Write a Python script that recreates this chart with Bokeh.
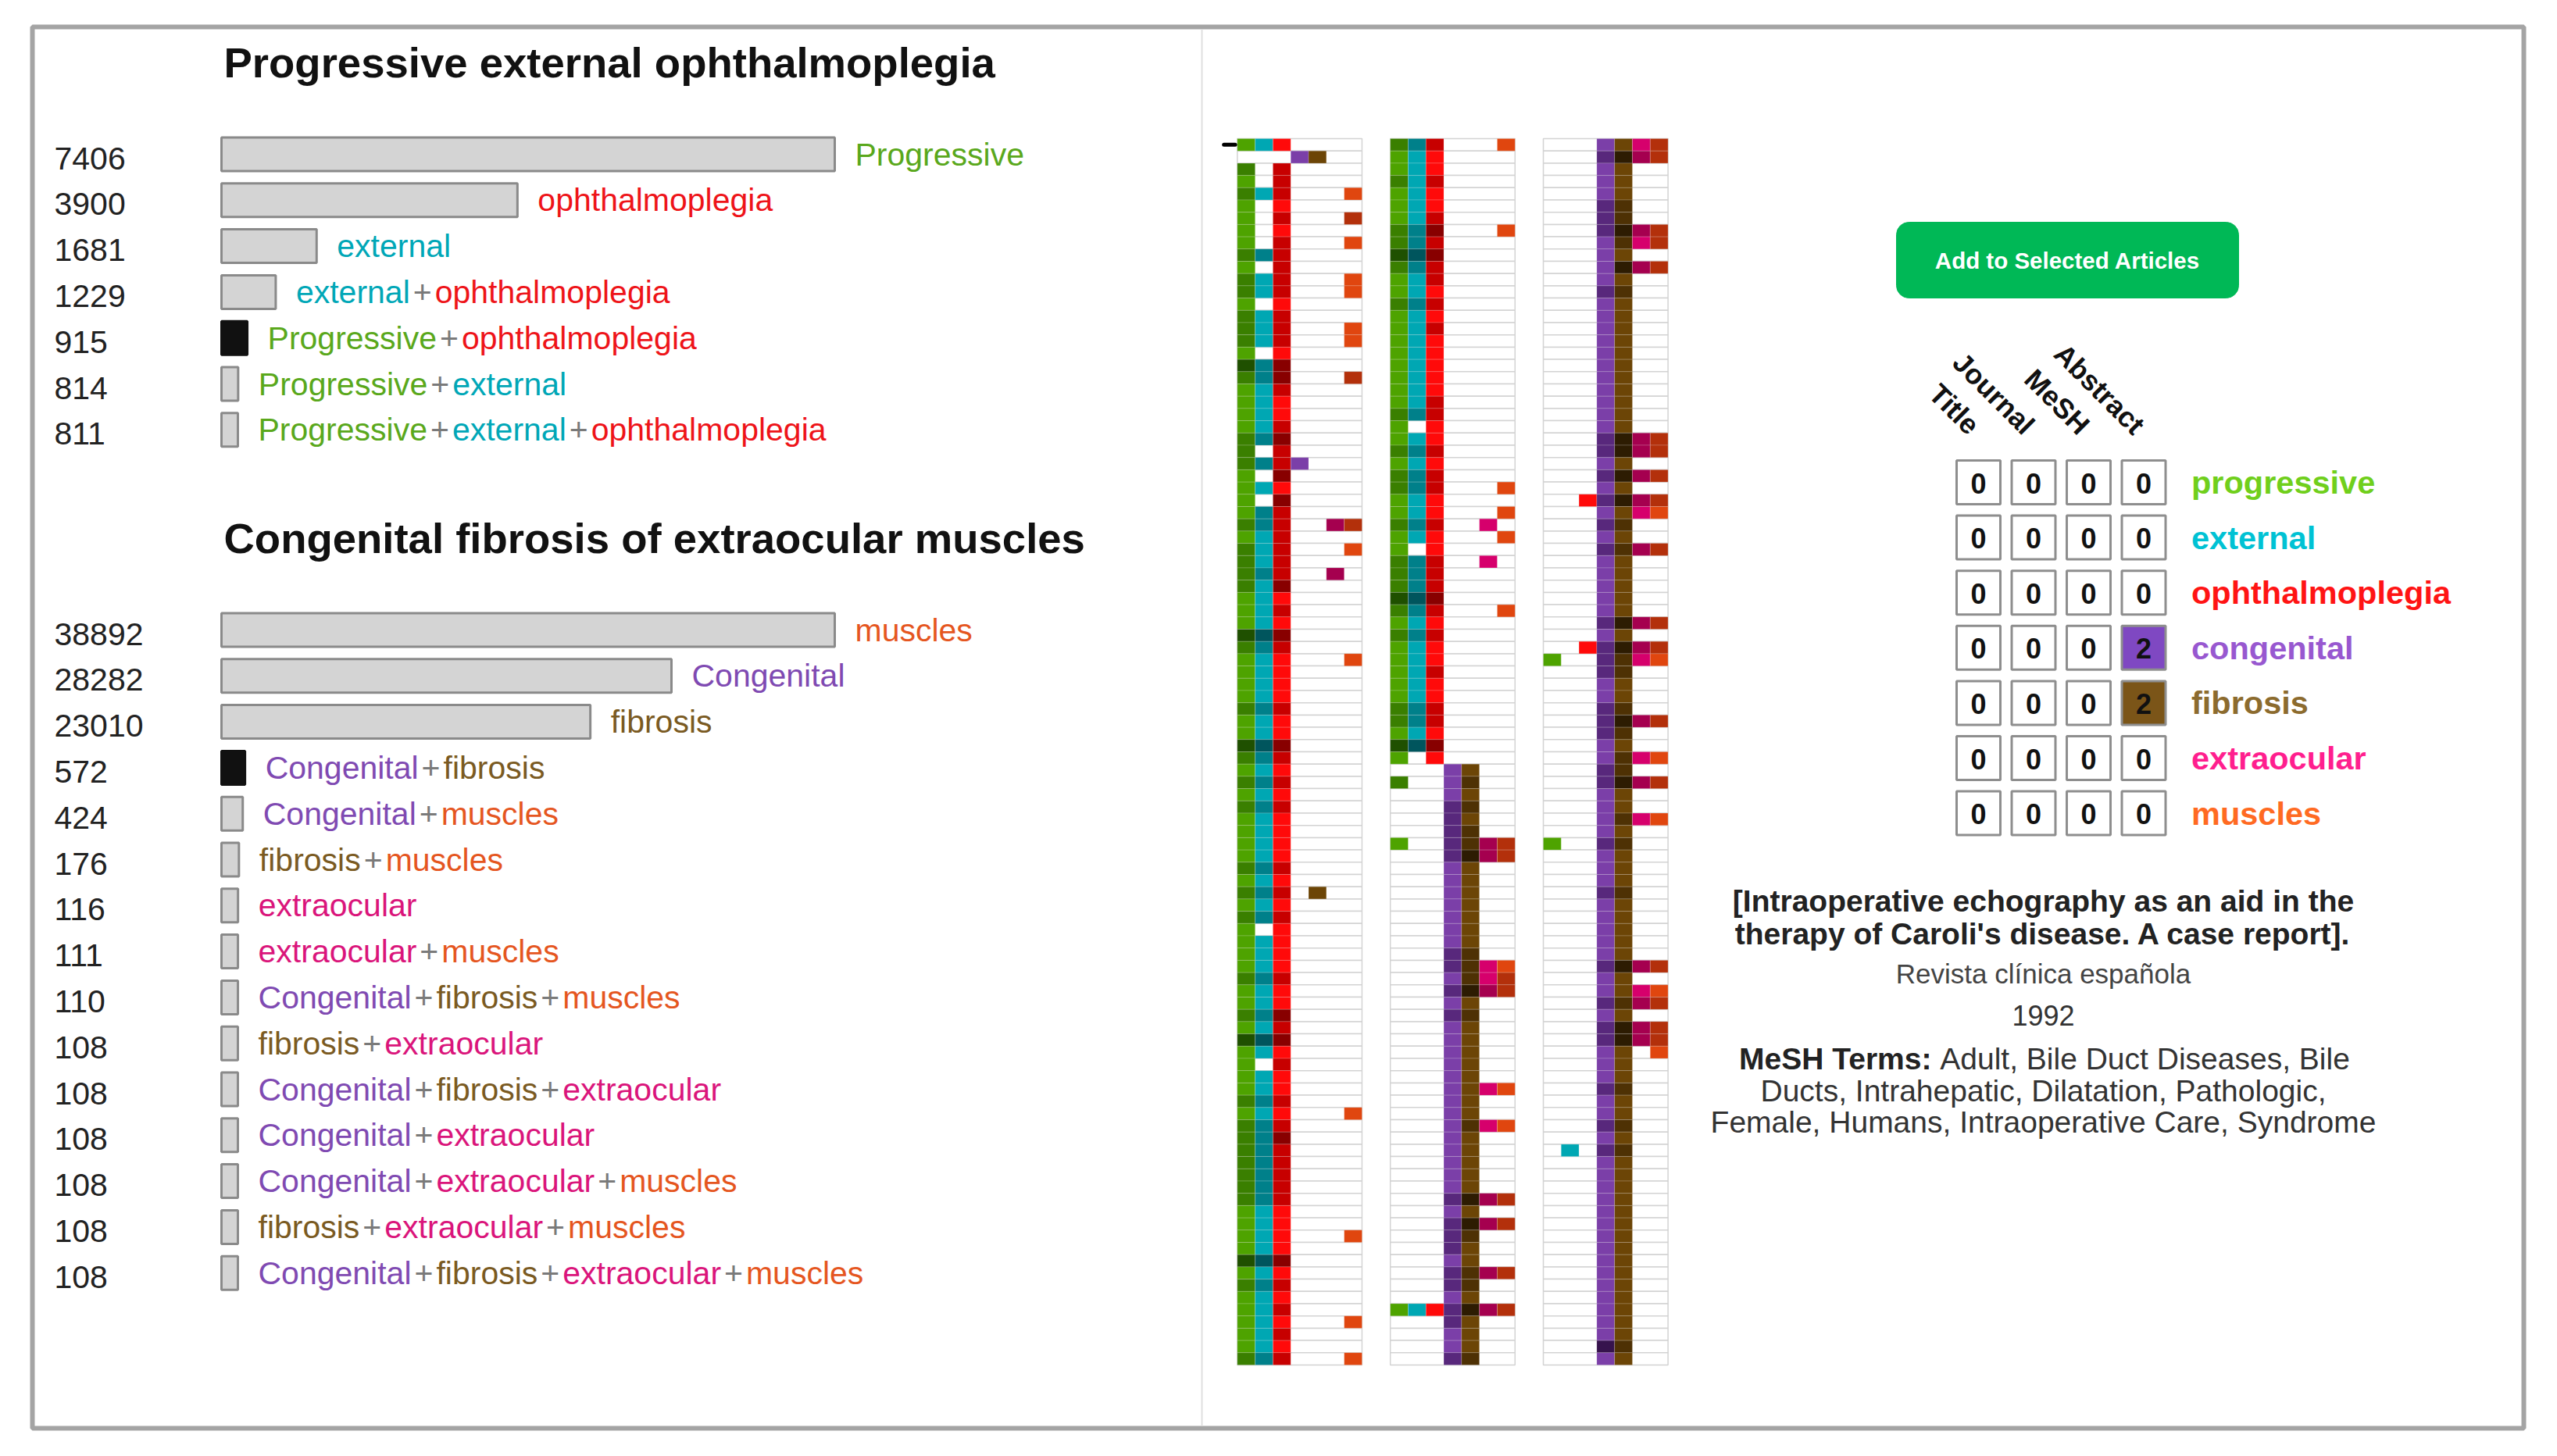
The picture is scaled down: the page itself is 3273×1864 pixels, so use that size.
import math
from bokeh.plotting import figure
from bokeh.models import Range1d
from bokeh.embed import file_html
from bokeh.resources import INLINE
from bokeh.core.properties import value

FONT = "Liberation Sans"

# ------------------------------------------------------------------ data
QUERY1_TITLE = "Progressive external ophthalmoplegia"
QUERY1_LABELS = ["Progressive", "ophthalmoplegia", "external", "external+ophthalmoplegia",
                 "Progressive+ophthalmoplegia", "Progressive+external",
                 "Progressive+external+ophthalmoplegia"]
QUERY1_COUNTS = [7406, 3900, 1681, 1229, 915, 814, 811]
QUERY1_SELECTED = [0, 0, 0, 0, 1, 0, 0]

QUERY2_TITLE = "Congenital fibrosis of extraocular muscles"
QUERY2_LABELS = ["muscles", "Congenital", "fibrosis", "Congenital+fibrosis", "Congenital+muscles",
                 "fibrosis+muscles", "extraocular", "extraocular+muscles",
                 "Congenital+fibrosis+muscles", "fibrosis+extraocular",
                 "Congenital+fibrosis+extraocular", "Congenital+extraocular",
                 "Congenital+extraocular+muscles", "fibrosis+extraocular+muscles",
                 "Congenital+fibrosis+extraocular+muscles"]
QUERY2_COUNTS = [38892, 28282, 23010, 572, 424, 176, 116, 111, 110, 108, 108, 108, 108, 108, 108]
QUERY2_SELECTED = [0, 0, 0, 1, 0, 0, 0, 0, 0, 0, 0, 0, 0, 0, 0]

TERMS = ["progressive", "external", "ophthalmoplegia", "congenital", "fibrosis", "extraocular", "muscles"]
LABEL_COLORS = ["#5aa81c", "#00a7b7", "#ee1419", "#7f4ab2", "#7a5a22", "#da157b", "#e5561f"]
LEGEND_COLORS = ["#70cf1c", "#00c2d4", "#ff1414", "#9858d0", "#8c6b2e", "#ff1f8e", "#ff6a22"]
SHADES = [
    ["#4ea300", "#3a7f00", "#1f5000"],
    ["#00a7b3", "#00808a", "#00555d"],
    ["#ff0a0a", "#c70000", "#880000"],
    ["#7b3fa8", "#58287c", "#36134d"],
    ["#6c4506", "#4e3104", "#2d1c02"],
    ["#d6006c", "#a5004f", "#7a0038"],
    ["#e0460f", "#b3300b", "#8a2208"],
]

# one string per article: one digit per term (0 = absent, 1..3 = shade level)
PANEL1 = ["1110000", "0001100", "2020000", "1020000", "2120001", "1010000", "1020002", "1010000",
          "1020001", "2220000", "1020000", "2120001", "2120001", "1010000", "2120000", "2120001",
          "2120001", "1010000", "3230000", "2230002", "1120000", "1110000", "1110000", "1120000",
          "2230000", "2020000", "2221000", "1030000", "1110000", "1030000", "1220000", "2220022",
          "1120000", "2120001", "2120000", "2220020", "2130000", "1110000", "1120000", "1110000",
          "3330000", "2220000", "1110001", "1110000", "1110000", "1110000", "2220000", "1110000",
          "1110000", "3330000", "2220000", "1110000", "2220000", "1110000", "2220000", "1110000",
          "1110000", "1110000", "1110000", "2220000", "1110000", "2220100", "1110000", "2220000",
          "1010000", "1110000", "1110000", "1110000", "2220000", "1110000", "1110000", "2230000",
          "1120000", "3330000", "1110000", "1020000", "1110000", "1110000", "2220000", "1110001",
          "2220000", "2230000", "2220000", "2220000", "2220000", "2220000", "2220000", "1110000",
          "1110000", "1110001", "1110000", "3330000", "1110000", "2220000", "1110000", "1120000",
          "1110001", "1120000", "1110000", "2220001"]
PANEL2 = ["2220001", "1110000", "1110000", "2120000", "1110000", "1110000", "1120000", "2230001",
          "2220000", "3330000", "2220000", "1120000", "1110000", "2220000", "1110000", "1120000",
          "1110000", "1110000", "1110000", "1110000", "1110000", "1120000", "2220000", "1010000",
          "1110000", "2220000", "1110000", "2220000", "2220001", "1110000", "1110001", "2220010",
          "1110001", "1010000", "2220010", "2220000", "2220000", "3330000", "2220001", "1110000",
          "2220000", "1110000", "1110000", "1120000", "1110000", "1110000", "2220000", "2220000",
          "1110000", "3330000", "1010000", "0001100", "2001200", "0001100", "0002200", "0002100",
          "0002200", "1002222", "0002322", "0001100", "0001100", "0001100", "0001100", "0001100",
          "0001100", "0001100", "0002200", "0002211", "0001212", "0002322", "0001100", "0002200",
          "0001100", "0001100", "0001100", "0001100", "0001100", "0001111", "0001100", "0001100",
          "0001211", "0001100", "0001100", "0001100", "0001100", "0001100", "0002322", "0001100",
          "0002322", "0002200", "0002100", "0001100", "0002222", "0002200", "0001100", "1112322",
          "0002100", "0001100", "0001100", "0002200"]
PANEL3 = ["0001112", "0002322", "0001100", "0001100", "0001100", "0002200", "0002200", "0002322",
          "0001212", "0001100", "0001322", "0001100", "0002200", "0001100", "0001100", "0001100",
          "0001100", "0001100", "0001100", "0001100", "0001100", "0001100", "0001100", "0001100",
          "0002322", "0002322", "0001100", "0002322", "0001100", "0012322", "0001111", "0002200",
          "0001100", "0002222", "0001100", "0001100", "0001100", "0001100", "0001100", "0002322",
          "0001100", "0012322", "1002211", "0002200", "0001100", "0001100", "0002200", "0002322",
          "0002200", "0001100", "0001211", "0002200", "0002322", "0001100", "0001100", "0001211",
          "0001100", "1002200", "0001100", "0001100", "0001100", "0002200", "0001100", "0001100",
          "0001100", "0001100", "0001100", "0002322", "0001100", "0001111", "0002222", "0001100",
          "0002322", "0002322", "0001101", "0001100", "0001100", "0002200", "0001100", "0001100",
          "0002200", "0001100", "0102200", "0001100", "0001100", "0001100", "0001100", "0001100",
          "0001100", "0001100", "0001100", "0001100", "0001100", "0001100", "0001100", "0001100",
          "0001100", "0001100", "0003200", "0001100"]
SELECTED_PANEL, SELECTED_ROW = 0, 0

FIELDS = ["Title", "Journal", "MeSH", "Abstract"]
FIELD_COUNTS = [[0, 0, 0, 0], [0, 0, 0, 0], [0, 0, 0, 0], [0, 0, 0, 2],
                [0, 0, 0, 2], [0, 0, 0, 0], [0, 0, 0, 0]]
HIGHLIGHT_FILLS = ["#8d8d8d", "#00b0c0", "#ee1419", "#7f48c2", "#7b5518", "#da157b", "#e5561f"]

BUTTON_TEXT = "Add to Selected Articles"
ARTICLE_TITLE = ["[Intraoperative echography as an aid in the",
                 "therapy of Caroli's disease. A case report]."]
ARTICLE_JOURNAL = "Revista clínica española"
ARTICLE_YEAR = "1992"
MESH_LABEL = "MeSH Terms:"
MESH_LINES = ["Adult, Bile Duct Diseases, Bile",
              "Ducts, Intrahepatic, Dilatation, Pathologic,",
              "Female, Humans, Intraoperative Care, Syndrome"]

# ------------------------------------------------------------ text metrics
_REG = dict(zip("abcdefghijklmnopqrstuvwxyz",
                [556, 556, 500, 556, 556, 278, 556, 556, 222, 222, 500, 222, 833, 556, 556, 556,
                 556, 333, 500, 278, 556, 500, 722, 500, 500, 500]))
_REG.update(zip("ABCDEFGHIJKLMNOPQRSTUVWXYZ",
                [667, 667, 722, 722, 667, 611, 778, 722, 278, 500, 667, 556, 833, 722, 778, 667,
                 778, 722, 667, 611, 722, 667, 944, 667, 667, 611]))
_REG.update({" ": 278, "+": 584, ",": 278, ".": 278, ":": 278, "'": 191, "[": 278, "]": 278,
             "í": 278, "ñ": 556})
_REG.update({d: 556 for d in "0123456789"})
_BOLD = dict(zip("abcdefghijklmnopqrstuvwxyz",
                 [556, 611, 556, 611, 556, 333, 611, 611, 278, 278, 556, 278, 889, 611, 611, 611,
                  611, 389, 556, 333, 611, 556, 778, 556, 556, 500]))
_BOLD.update(zip("ABCDEFGHIJKLMNOPQRSTUVWXYZ",
                 [722, 722, 722, 722, 667, 611, 778, 722, 278, 556, 722, 611, 833, 722, 778, 667,
                  778, 722, 667, 611, 722, 667, 944, 667, 667, 611]))
_BOLD.update({" ": 278, "+": 584, ",": 278, ".": 278, ":": 333, "'": 238, "[": 333, "]": 333})


def text_w(s, size, bold=False):
    t = _BOLD if bold else _REG
    return sum(t.get(ch, 556) for ch in s) / 1000.0 * size


# ------------------------------------------------------------------ figure
W, H = 3257, 1848
X0, Y0 = 0, 0          # figure origin in the reference picture
p = figure(width=W, height=H, x_range=Range1d(X0, X0 + W), y_range=Range1d(Y0 + H, Y0),
           x_axis_type=None, y_axis_type=None, output_backend="svg", toolbar_location=None,
           min_border=0, outline_line_color=None)
p.grid.visible = False
XR, YR = {}, {}


def xr(px, v, px_per_unit):
    return Range1d(start=v + (X0 - px) / px_per_unit, end=v + (X0 + W - px) / px_per_unit)


def yr(px, v, px_per_unit):
    return Range1d(start=v + (Y0 + H - px) / px_per_unit, end=v + (Y0 - px) / px_per_unit)


TXT = dict(text_font=value(FONT))

# frame and divider
p.quad(left=41, right=3230, top=34, bottom=1828, fill_color=None, line_color="#a4a4a4", line_width=6)
p.segment(x0=1538, x1=1538, y0=37, y1=1825, line_color="#e0e0e0", line_width=2)

# ------------------------------------------------------------- bar groups
BAR_LEFT, BAR_MIN_END, BAR_END = 283, 304, 1068
ROW_PITCH, BAR_H = 58.8, 43
NUM_X, TITLE_X, LABEL_GAP = 69, 286, 26
LABEL_SIZE, PLUS_PAD = 41, 4


def bar_group(key, title, labels, counts, selected, title_y, row0_y):
    lo, hi = min(counts), max(counts)
    ppu = (BAR_END - BAR_MIN_END) / (hi - lo)
    XR[key] = xr(BAR_MIN_END, lo, ppu)
    YR[key] = yr(row0_y, 0, ROW_PITCH)
    base = lo - (BAR_MIN_END - BAR_LEFT) / ppu
    idx = list(range(len(counts)))
    fills = ["#111111" if s else "#d4d4d4" for s in selected]
    lines = ["#111111" if s else "#8a8a8a" for s in selected]
    p.hbar(y=idx, left=base, right=counts, height=BAR_H / ROW_PITCH, fill_color=fills,
           line_color=lines, line_width=3, x_range_name=key, y_range_name=key)
    p.text(x=[NUM_X] * len(counts), y=idx, text=[str(c) for c in counts], y_range_name=key,
           text_font_size="41px", text_color="#222222", text_baseline="middle", y_offset=5, **TXT)
    xs, ys, ts, cs, offs = [], [], [], [], []
    for i, (lab, c) in enumerate(zip(labels, counts)):
        off = LABEL_GAP
        for j, part in enumerate(lab.split("+")):
            if j:
                off += PLUS_PAD
                xs.append(c); ys.append(i); ts.append("+"); cs.append("#7a7a7a"); offs.append(off)
                off += text_w("+", LABEL_SIZE) + PLUS_PAD
            xs.append(c); ys.append(i); ts.append(part)
            cs.append(LABEL_COLORS[TERMS.index(part.lower())]); offs.append(off)
            off += text_w(part, LABEL_SIZE)
    p.text(x=xs, y=ys, text=ts, text_color=cs, x_offset=offs, x_range_name=key, y_range_name=key,
           text_font_size=f"{LABEL_SIZE}px", text_baseline="middle", **TXT)
    p.text(x=[TITLE_X], y=[title_y], text=[title], text_font_size="54.5px", text_font_style="bold",
           text_color="#111111", text_baseline="middle", **TXT)


bar_group("q1", QUERY1_TITLE, QUERY1_LABELS, QUERY1_COUNTS, QUERY1_SELECTED, 80, 197)
bar_group("q2", QUERY2_TITLE, QUERY2_LABELS, QUERY2_COUNTS, QUERY2_SELECTED, 689, 806)

# ---------------------------------------------------------------- heatmap
HM_LEFT, HM_COL, HM_TOP, HM_ROW = 1583.3, 22.8, 177, 15.7
PANEL_STEP = 195.85 / HM_COL
XR["hm"] = xr(HM_LEFT, 0, HM_COL)
YR["hm"] = yr(HM_TOP, 0, HM_ROW)

bx, by, cx, cy, cc = [], [], [], [], []
for pi, rows in enumerate([PANEL1, PANEL2, PANEL3]):
    for r, s in enumerate(rows):
        bx.append(pi * PANEL_STEP + len(TERMS) / 2); by.append(r + 0.5)
        for c, ch in enumerate(s):
            lvl = int(ch)
            if lvl:
                cx.append(pi * PANEL_STEP + c + 0.5); cy.append(r + 0.5)
                cc.append(SHADES[c][lvl - 1])
p.rect(x=bx, y=by, width=len(TERMS), height=1, fill_color="white", line_color="#d3d3d3",
       line_width=1.5, x_range_name="hm", y_range_name="hm")
p.rect(x=cx, y=cy, width=1, height=1, fill_color=cc, line_color="white", line_alpha=0.18,
       line_width=1, x_range_name="hm", y_range_name="hm")
p.segment(x0=[SELECTED_PANEL * PANEL_STEP - 0.75], x1=[SELECTED_PANEL * PANEL_STEP - 0.12],
          y0=[SELECTED_ROW + 0.5], y1=[SELECTED_ROW + 0.5], line_color="black", line_width=5,
          line_cap="round", x_range_name="hm", y_range_name="hm")

# ------------------------------------------------------------ right panel
p.quad(left=2427, right=2865, top=284, bottom=381, fill_color="#00b856", line_color="#00b856",
       border_radius=16)
p.text(x=[2646], y=[333], text=[BUTTON_TEXT], text_color="white", text_font_size="29.5px",
       text_font_style="bold", text_align="center", text_baseline="middle", **TXT)

TB_X, TB_Y, TB_PITCH_X, TB_PITCH_Y, CELL = 2532, 617, 70.5, 70.6, 56
XR["tb"] = xr(TB_X, 0, TB_PITCH_X)
YR["tb"] = yr(TB_Y, 0, TB_PITCH_Y)

tx, ty, tt, tf = [], [], [], []
for r, row in enumerate(FIELD_COUNTS):
    for c, v in enumerate(row):
        tx.append(c); ty.append(r); tt.append(str(v))
        tf.append(HIGHLIGHT_FILLS[r] if v else "white")
p.rect(x=tx, y=ty, width=CELL / TB_PITCH_X, height=CELL / TB_PITCH_Y, fill_color=tf,
       line_color="#8e8e8e", line_width=3, x_range_name="tb", y_range_name="tb")
p.text(x=tx, y=ty, text=tt, text_color="#111111", text_font_size="36px", text_font_style="bold",
       text_align="center", text_baseline="middle", y_offset=1, x_range_name="tb",
       y_range_name="tb", **TXT)
p.text(x=list(range(len(FIELDS))), y=[-0.96] * len(FIELDS), text=FIELDS, angle=-math.pi / 4,
       x_offset=-5, text_color="#111111", text_font_size="36px", text_font_style="bold",
       text_align="right", text_baseline="middle", x_range_name="tb", y_range_name="tb", **TXT)
p.text(x=[len(FIELDS) - 1] * len(TERMS), y=list(range(len(TERMS))), text=TERMS,
       text_color=LEGEND_COLORS, x_offset=61, text_font_size="41.5px", text_font_style="bold",
       text_baseline="middle", x_range_name="tb", y_range_name="tb", **TXT)

# article details
INFO_X = 2615
p.text(x=[INFO_X] * 2, y=[1153, 1195], text=ARTICLE_TITLE, text_color="#222222",
       text_font_size="39px", text_font_style="bold", text_align="center",
       text_baseline="middle", **TXT)
p.text(x=[INFO_X], y=[1246], text=[ARTICLE_JOURNAL], text_color="#444444", text_font_size="35px",
       text_align="center", text_baseline="middle", **TXT)
p.text(x=[INFO_X], y=[1299], text=[ARTICLE_YEAR], text_color="#333333", text_font_size="36px",
       text_align="center", text_baseline="middle", **TXT)
MS = 39
wb = text_w(MESH_LABEL, MS, bold=True)
wsp = text_w(" ", MS)
wr = text_w(MESH_LINES[0], MS)
split = INFO_X - (wb + wsp + wr) / 2 + wb
p.text(x=[split], y=[1355], text=[MESH_LABEL], text_color="#222222", text_font_size=f"{MS}px",
       text_font_style="bold", text_align="right", text_baseline="middle", **TXT)
p.text(x=[split], y=[1355], text=[MESH_LINES[0]], x_offset=wsp, text_color="#333333",
       text_font_size=f"{MS}px", text_align="left", text_baseline="middle", **TXT)
p.text(x=[INFO_X] * 2, y=[1396, 1436], text=MESH_LINES[1:], text_color="#333333",
       text_font_size=f"{MS}px", text_align="center", text_baseline="middle", **TXT)

p.extra_x_ranges = XR
p.extra_y_ranges = YR

open("out.html", "w", encoding="utf-8").write(file_html(p, INLINE))
